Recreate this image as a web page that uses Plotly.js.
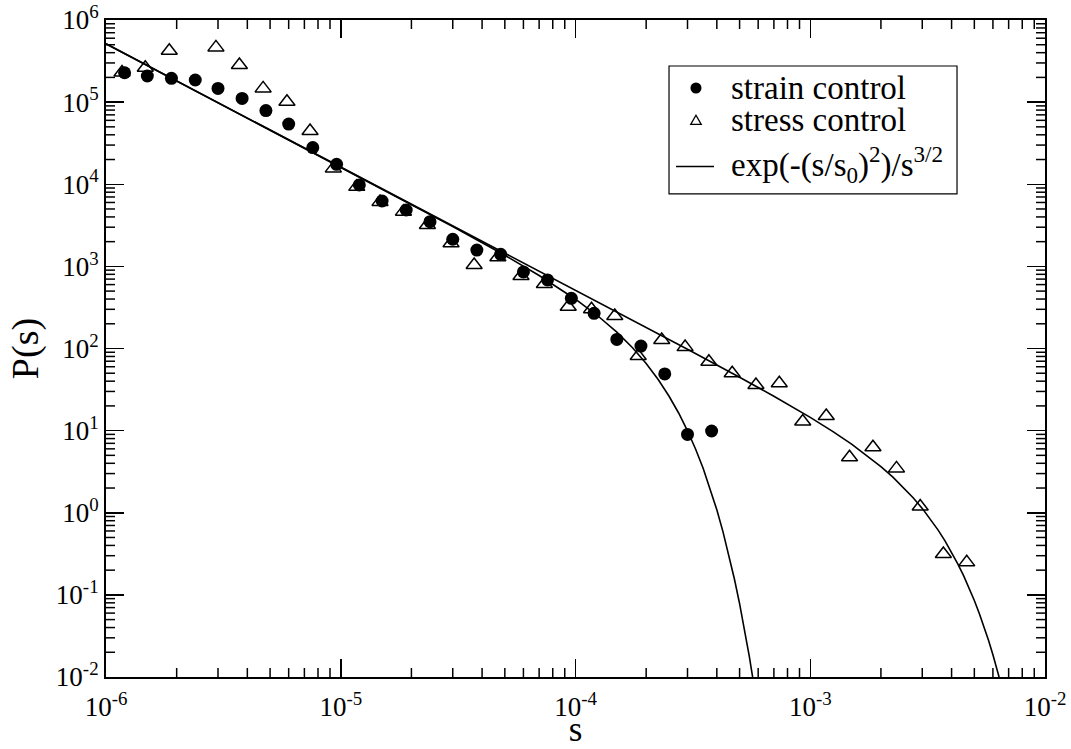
<!DOCTYPE html>
<html>
<head>
<meta charset="utf-8">
<script src="https://cdn.plot.ly/plotly-3.0.1.min.js"></script>
<style>
html,body{margin:0;padding:0;background:#fff;}
#chart{width:1071px;height:749px;}
</style>
</head>
<body>
<div id="chart"></div>
<script>
// strain control (filled circles)
const strainX = [1.2e-6,1.5e-6,1.9e-6,2.4e-6,3.0e-6,3.8e-6,4.8e-6,6.0e-6,7.6e-6,9.6e-6,1.2e-5,1.5e-5,1.9e-5,2.4e-5,3.0e-5,3.8e-5,4.8e-5,6.0e-5,7.6e-5,9.6e-5,1.2e-4,1.5e-4,1.9e-4,2.4e-4,3.0e-4,3.8e-4];
const strainY = [2.28e5,2.08e5,1.95e5,1.86e5,1.47e5,1.11e5,7.9e4,5.4e4,2.8e4,1.75e4,9.8e3,6.25e3,4.86e3,3.5e3,2.14e3,1.58e3,1.4e3,855,683,408,268,129,107,49,9.0,9.9];

// stress control (open triangles)
const stressX = [1.17e-6,1.47e-6,1.86e-6,2.94e-6,3.7e-6,4.67e-6,5.9e-6,7.4e-6,9.3e-6,1.17e-5,1.47e-5,1.85e-5,2.34e-5,2.95e-5,3.7e-5,4.67e-5,5.86e-5,7.37e-5,9.31e-5,1.17e-4,1.47e-4,1.85e-4,2.33e-4,2.93e-4,3.7e-4,4.65e-4,5.87e-4,7.38e-4,9.29e-4,1.17e-3,1.47e-3,1.85e-3,2.33e-3,2.94e-3,3.69e-3,4.64e-3];
const stressY = [2.3e5,2.62e5,4.23e5,4.64e5,2.83e5,1.47e5,1.01e5,4.45e4,1.56e4,9.3e3,6.1e3,4.64e3,3.19e3,1.91e3,1.04e3,1.29e3,764,610,323,300,249,81,127,104,69,49.9,36,37.7,12.9,15.1,4.73,6.27,3.47,1.19,0.315,0.249];

// fit curve, strain-control cutoff
const fitStrainX = [1e-6,1e-5,2e-5,3e-5,5e-5,7e-5,1e-4,1.25e-4,1.5e-4,1.75e-4,2e-4,2.25e-4,2.5e-4,2.75e-4,3e-4,3.25e-4,3.5e-4,3.75e-4,4e-4,4.25e-4,4.5e-4,4.75e-4,5e-4,5.25e-4,5.5e-4,5.75e-4,6e-4];
const fitStrainY = [5.14e5,1.62e4,5690,3057,1364,775,398,247,158,102,65.5,41.9,26.4,16.4,9.96,5.93,3.45,1.96,1.085,0.585,0.308,0.157,0.0782,0.0378,0.0178,0.00811,0.0036];

// fit curve, stress-control cutoff
const fitStressX = [1e-6,1e-5,1e-4,2e-4,3e-4,5e-4,7e-4,1e-3,1.25e-3,1.5e-3,1.75e-3,2e-3,2.25e-3,2.5e-3,2.75e-3,3e-3,3.25e-3,3.5e-3,3.75e-3,4e-3,4.25e-3,4.5e-3,4.75e-3,5e-3,5.25e-3,5.5e-3,5.75e-3,6e-3,6.25e-3,6.5e-3];
const fitStressY = [5.14e5,1.625e4,513,180.9,97.9,44.7,26.25,14.5,9.74,6.86,4.96,3.65,2.71,2.02,1.51,1.13,0.838,0.619,0.455,0.331,0.239,0.1715,0.1216,0.0854,0.0594,0.0408,0.0278,0.0187,0.0124,0.00815];

// legend labels
const legendLabels = ['strain control', 'stress control', 'exp(-(s/s<sub>0</sub>)<sup>2</sup>)/s<sup>3/2</sup>'];

// tick labels
const xTickVals = [1e-6,1e-5,1e-4,1e-3,1e-2];
const xTickText = ['10<sup>-6</sup>','10<sup>-5</sup>','10<sup>-4</sup>','10<sup>-3</sup>','10<sup>-2</sup>'];
const yTickVals = [1e-2,1e-1,1,10,100,1e3,1e4,1e5,1e6];
const yTickText = ['10<sup>-2</sup>','10<sup>-1</sup>','10<sup>0</sup>','10<sup>1</sup>','10<sup>2</sup>','10<sup>3</sup>','10<sup>4</sup>','10<sup>5</sup>','10<sup>6</sup>'];

const X_RANGE = [-6, -2];   // log10 decades
const Y_RANGE = [-2, 6];

const FONT = '"Liberation Serif", "Times New Roman", Times, serif';

// minor tick marks (2..9 in every decade) on all four sides, in paper coordinates
const PLOT_W = 1071 - 106 - 26, PLOT_H = 749 - 20 - 72;
const MINOR_LEN = 9;
const MINOR_COLOR = 'black';
function minorTickShapes() {
  const shapes = [];
  const h = MINOR_LEN / PLOT_H, w = MINOR_LEN / PLOT_W;
  for (let e = X_RANGE[0]; e < X_RANGE[1]; e++) {
    for (let d = 2; d <= 9; d++) {
      const f = (Math.log10(d) + e - X_RANGE[0]) / (X_RANGE[1] - X_RANGE[0]);
      shapes.push({type:'line', xref:'paper', yref:'paper', x0:f, x1:f, y0:0, y1:h, line:{color:MINOR_COLOR, width:1.5}, layer:'above'});
      shapes.push({type:'line', xref:'paper', yref:'paper', x0:f, x1:f, y0:1-h, y1:1, line:{color:MINOR_COLOR, width:1.5}, layer:'above'});
    }
  }
  for (let e = Y_RANGE[0]; e < Y_RANGE[1]; e++) {
    for (let d = 2; d <= 9; d++) {
      const f = (Math.log10(d) + e - Y_RANGE[0]) / (Y_RANGE[1] - Y_RANGE[0]);
      shapes.push({type:'line', xref:'paper', yref:'paper', x0:0, x1:w, y0:f, y1:f, line:{color:MINOR_COLOR, width:1.5}, layer:'above'});
      shapes.push({type:'line', xref:'paper', yref:'paper', x0:1-w, x1:1, y0:f, y1:f, line:{color:MINOR_COLOR, width:1.5}, layer:'above'});
    }
  }
  return shapes;
}

const traces = [
  {x: strainX, y: strainY, type:'scatter', mode:'markers', name:legendLabels[0], showlegend:false,
   marker:{symbol:'circle', size:13, color:'black'}},
  {x: stressX, y: stressY, type:'scatter', mode:'markers', name:legendLabels[1], showlegend:false,
   marker:{symbol:'triangle-up-open', size:14, color:'black', line:{width:1.5, color:'black'}}},
  {x: fitStressX, y: fitStressY, type:'scatter', mode:'lines', name:legendLabels[2], showlegend:false,
   line:{color:'black', width:1.6}},
  {x: fitStrainX, y: fitStrainY, type:'scatter', mode:'lines', showlegend:false,
   line:{color:'black', width:1.6}}
];

const majorAxis = {
  type:'log', showgrid:false, zeroline:false,
  showline:true, linecolor:'black', linewidth:2, mirror:'allticks',
  ticks:'inside', ticklen:18, tickwidth:1.5, tickcolor:'black',
  tickmode:'array',
  tickfont:{family:FONT, size:27, color:'black'}
};

// custom legend geometry (paper coordinates)
const LX0 = 0.5996, LX1 = 0.9063, LY0 = 0.7352, LY1 = 0.9300;
const SYMX = 0.6283, TXTX = 0.6640;
const ROWY = [0.8965, 0.8478, 0.7800];

const legendShapes = [
  {type:'rect', xref:'paper', yref:'paper', x0:LX0, x1:LX1, y0:LY0, y1:LY1,
   line:{color:'black', width:1.2}, fillcolor:'white', layer:'above'},
  {type:'circle', xref:'paper', yref:'paper', x0:SYMX-0.0059, x1:SYMX+0.0059, y0:ROWY[0]-0.0084, y1:ROWY[0]+0.0084,
   line:{color:'black', width:0}, fillcolor:'black', layer:'above'},
  {type:'path', xref:'paper', yref:'paper', layer:'above',
   path:'M'+(SYMX-0.0056)+','+(ROWY[1]-0.0068)+' L'+(SYMX+0.0056)+','+(ROWY[1]-0.0068)+' L'+SYMX+','+(ROWY[1]+0.0072)+' Z',
   line:{color:'black', width:1.3}},
  {type:'line', xref:'paper', yref:'paper', x0:0.6070, x1:0.6475, y0:ROWY[2]-0.003, y1:ROWY[2]-0.003,
   line:{color:'black', width:1.5}, layer:'above'}
];

const layout = {
  width:1071, height:749,
  paper_bgcolor:'white', plot_bgcolor:'white',
  margin:{l:106, r:26, t:20, b:72},
  showlegend:false,
  font:{family:FONT, color:'black'},
  xaxis: Object.assign({}, majorAxis, {
    range:X_RANGE, tickvals:xTickVals, ticktext:xTickText, ticklabelstandoff:5,
    title:{text:'s', font:{family:FONT, size:35, color:'black'}, standoff:0}
  }),
  yaxis: Object.assign({}, majorAxis, {
    range:Y_RANGE, tickvals:yTickVals, ticktext:yTickText,
    title:{text:'P(s)', font:{family:FONT, size:38, color:'black'}, standoff:6}
  }),
  shapes: minorTickShapes().concat(legendShapes),
  annotations: legendLabels.map((t, i) => ({
    text:t, xref:'paper', yref:'paper', x:TXTX, y:ROWY[i], xanchor:'left', yanchor:'middle',
    showarrow:false, font:{family:FONT, size:33, color:'black'}
  }))
};

Plotly.newPlot('chart', traces, layout, {displayModeBar:false, staticPlot:true});
</script>
</body>
</html>
